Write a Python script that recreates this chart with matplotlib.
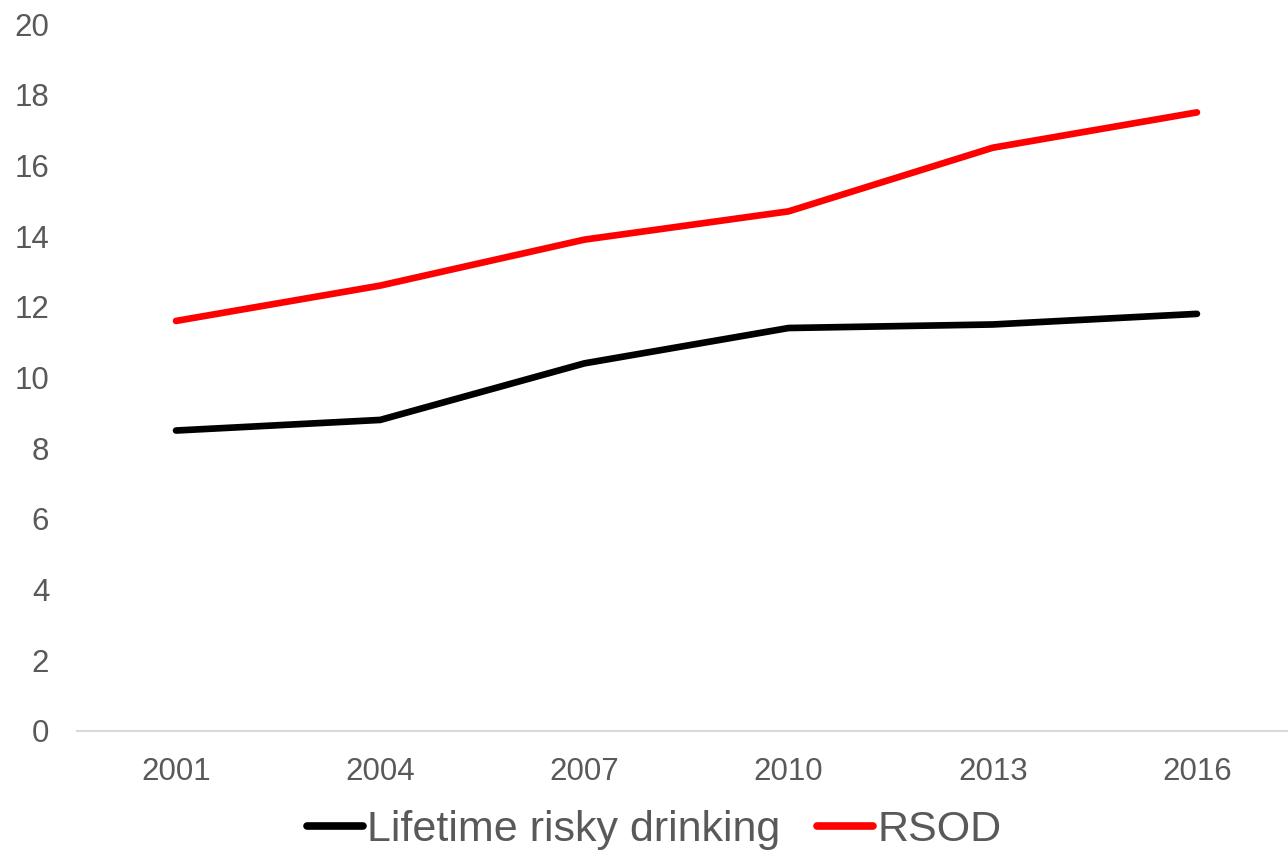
import matplotlib
matplotlib.use("Agg")
import matplotlib.pyplot as plt
from matplotlib import font_manager

years = ["2001", "2004", "2007", "2010", "2013", "2016"]
lifetime_risky = [8.5, 8.8, 10.4, 11.4, 11.5, 11.8]
rsod = [11.6, 12.6, 13.9, 14.7, 16.5, 17.5]
yticks = [0, 2, 4, 6, 8, 10, 12, 14, 16, 18, 20]

names = {f.name for f in font_manager.fontManager.ttflist}
narrow = "Liberation Sans Narrow" if "Liberation Sans Narrow" in names else "Liberation Sans"
plt.rcParams['font.family'] = ['Liberation Sans', 'DejaVu Sans']

fig = plt.figure(figsize=(12.88, 8.52), dpi=100)
ax = fig.add_axes([77/1288, 121/852, (1288-77)/1288, (731-24)/852])
x = list(range(len(years)))
ax.plot(x, lifetime_risky, color="black", lw=4.8, solid_capstyle="round", label="Lifetime risky drinking")
ax.plot(x, rsod, color="#ff0000", lw=4.8, solid_capstyle="round", label="RSOD")

ax.set_xlim(-0.485, 5.446)
ax.set_ylim(0, 20)
ax.set_xticks(x)
ax.set_xticklabels(years)
ax.set_yticks(yticks)
for s in ["top", "right", "left"]:
    ax.spines[s].set_visible(False)
ax.spines["bottom"].set_color("#d9d9d9")
ax.spines["bottom"].set_linewidth(1.5)
ax.tick_params(axis="both", length=0, labelsize=22.5, labelcolor="#595959")
ax.tick_params(axis="x", pad=19)
ax.tick_params(axis="y", pad=20)

leg = fig.legend(loc="center", bbox_to_anchor=(0.508, 22/852), ncol=2, frameon=False,
                 prop={'family': narrow, 'size': 31}, handlelength=1.3, handletextpad=0.1,
                 columnspacing=0.85, labelcolor="#595959")
for h in leg.get_lines():
    h.set_linewidth(5.5)

fig.savefig("out.png", dpi=100)
